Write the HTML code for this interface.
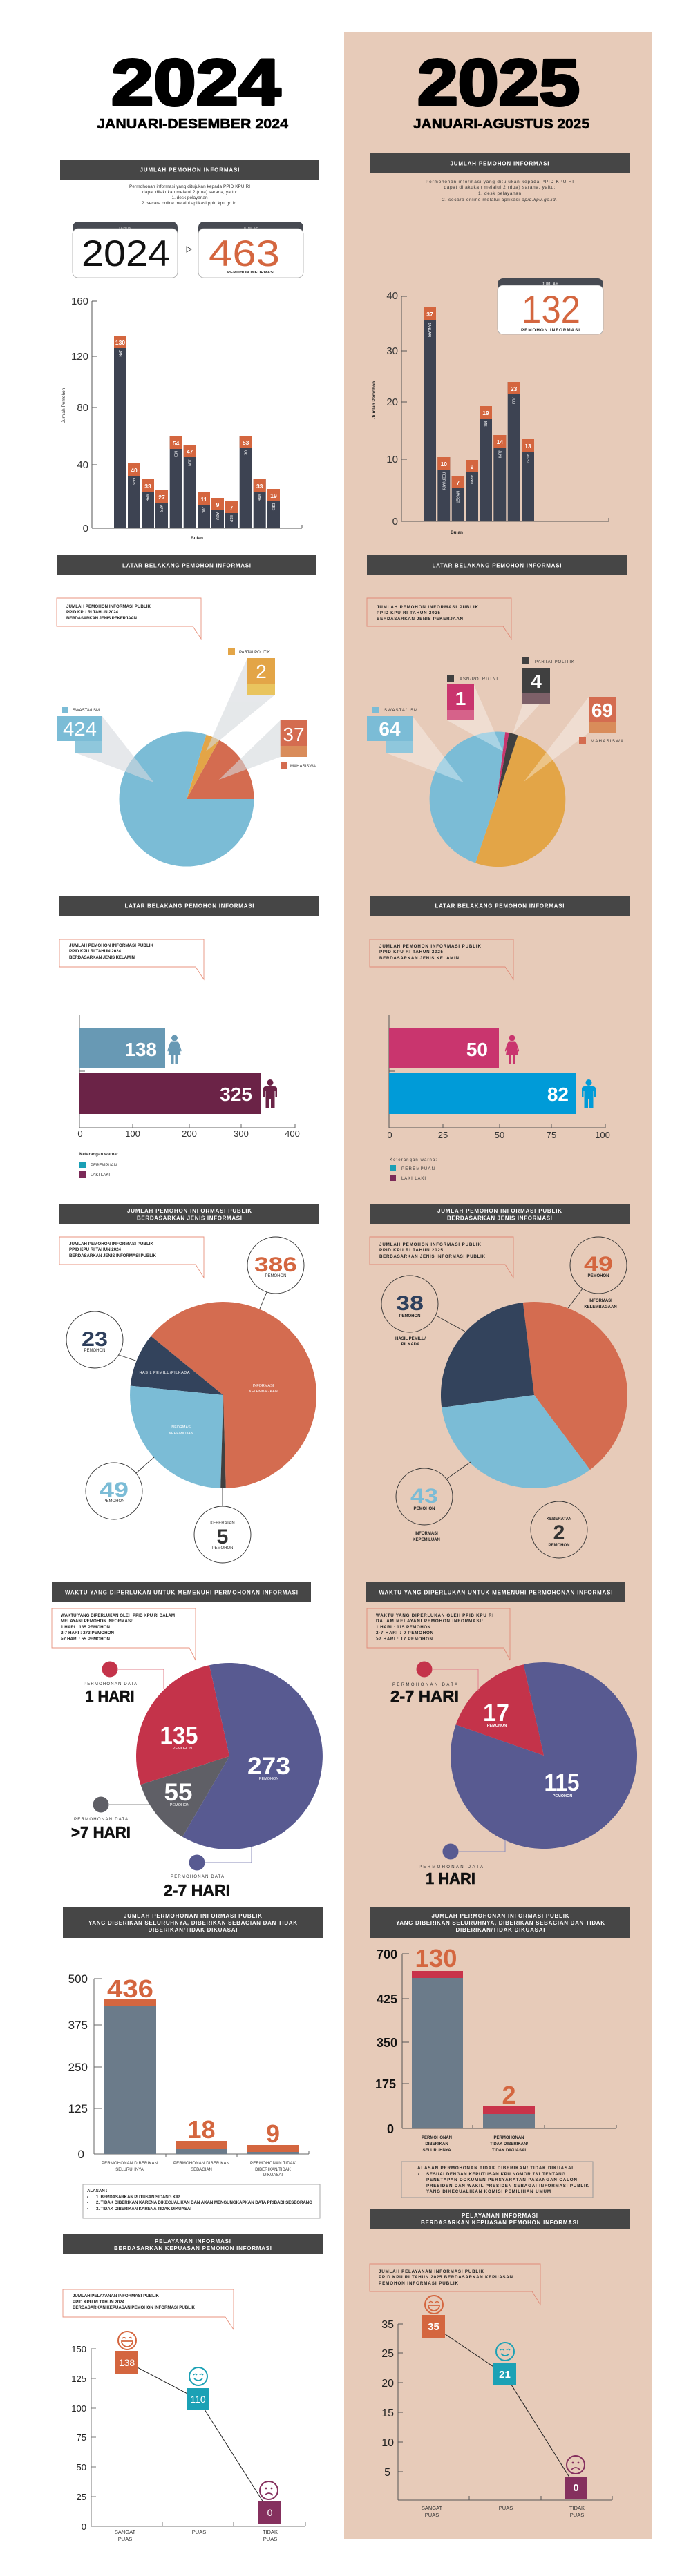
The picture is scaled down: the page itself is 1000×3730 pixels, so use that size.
<!DOCTYPE html>
<html>
<head>
<meta charset="utf-8">
<style>
html,body{margin:0;padding:0;background:#fff;}
svg{display:block;}
text{font-family:"Liberation Sans",Arial,sans-serif;}
.hd{fill:#fff;font-weight:bold;font-size:8px;text-anchor:middle;}
.co{fill:#222;font-weight:bold;font-size:6.2px;}
.cor{fill:#333;font-size:6.4px;}
.tk{fill:#333;font-size:15px;text-anchor:end;}
.bv{fill:#fff;font-weight:bold;font-size:8.5px;text-anchor:middle;}
.bm{fill:#fff;font-size:5px;}
.lg{fill:#333;font-size:6px;}
.sm{fill:#333;font-size:6px;text-anchor:middle;}
.smb{fill:#222;font-size:6px;font-weight:bold;text-anchor:middle;}
.pw{fill:#fff;font-size:5.5px;text-anchor:middle;}
</style>
</head>
<body>
<svg width="1000" height="3730" viewBox="0 0 1000 3730" xmlns="http://www.w3.org/2000/svg">
<rect x="0" y="0" width="1000" height="3730" fill="#ffffff"/>
<rect x="498" y="47" width="446" height="3630" fill="#e7cbb9"/>

<!-- ================= TITLES ================= -->
<text x="161" y="152" font-size="95" font-weight="bold" textLength="245" lengthAdjust="spacingAndGlyphs" fill="#000" stroke="#000" stroke-width="4" stroke-linejoin="round">2024</text>
<text x="140" y="186" font-size="20.5" font-weight="bold" textLength="277" lengthAdjust="spacingAndGlyphs" fill="#000" stroke="#000" stroke-width="0.6">JANUARI-DESEMBER 2024</text>
<text x="604" y="152" font-size="95" font-weight="bold" textLength="235" lengthAdjust="spacingAndGlyphs" fill="#000" stroke="#000" stroke-width="4" stroke-linejoin="round">2025</text>
<text x="598" y="186" font-size="20.5" font-weight="bold" textLength="255" lengthAdjust="spacingAndGlyphs" fill="#000" stroke="#000" stroke-width="0.6">JANUARI-AGUSTUS 2025</text>

<!-- ================= SECTION 1 : JUMLAH PEMOHON ================= -->
<rect x="87" y="231" width="375" height="29" fill="#464646"/>
<text class="hd" x="274.5" y="248.5" textLength="144">JUMLAH PEMOHON INFORMASI</text>
<g class="cor" text-anchor="middle" font-size="6.3">
<text x="274.5" y="272" textLength="175">Permohonan informasi yang ditujukan kepada PPID KPU RI</text>
<text x="274.5" y="280" textLength="137">dapat dilakukan melalui 2 (dua) sarana, yaitu:</text>
<text x="274.5" y="288" textLength="52">1. desk pelayanan</text>
<text x="274.5" y="296" textLength="139">2. secara online melalui aplikasi ppid.kpu.go.id.</text>
</g>
<!-- tahun box -->
<rect x="105" y="321" width="152" height="81" rx="8" fill="#474a52"/>
<rect x="105" y="331" width="152" height="71" rx="8" fill="#fff" stroke="#aaa" stroke-width="0.8"/>
<text x="181" y="332" font-size="5" fill="#ccc" text-anchor="middle" letter-spacing="0.5">TAHUN</text>
<text x="118" y="385" font-size="53" fill="#111" textLength="128" lengthAdjust="spacingAndGlyphs">2024</text>
<polygon points="270,357 277,361 270,365" fill="none" stroke="#333" stroke-width="0.8"/>
<rect x="287" y="321" width="152" height="81" rx="8" fill="#474a52"/>
<rect x="287" y="331" width="152" height="71" rx="8" fill="#fff" stroke="#aaa" stroke-width="0.8"/>
<text x="363" y="332" font-size="5" fill="#ccc" text-anchor="middle" letter-spacing="0.5">JUMLAH</text>
<text x="302" y="385" font-size="53" fill="#d4663f" textLength="103" lengthAdjust="spacingAndGlyphs">463</text>
<text x="363" y="396" font-size="5.8" font-weight="bold" fill="#222" text-anchor="middle" textLength="68">PEMOHON INFORMASI</text>

<!-- bar chart 2024 -->
<g stroke="#555" stroke-width="1">
<line x1="133" y1="436" x2="133" y2="765"/>
<line x1="133" y1="765" x2="437" y2="765"/>
<line x1="437" y1="760" x2="437" y2="765"/>
<line x1="133" y1="436" x2="141" y2="436"/>
<line x1="133" y1="516" x2="141" y2="516"/>
<line x1="133" y1="590" x2="141" y2="590"/>
<line x1="133" y1="673" x2="141" y2="673"/>
</g>
<text class="tk" x="128" y="441">160</text>
<text class="tk" x="128" y="521">120</text>
<text class="tk" x="128" y="595">80</text>
<text class="tk" x="128" y="678">40</text>
<text class="tk" x="128" y="770">0</text>
<text transform="translate(94,587) rotate(-90)" font-size="6.5" fill="#333" text-anchor="middle">Jumlah Pemohon</text>
<text x="285" y="781" font-size="6.5" font-weight="bold" fill="#333" text-anchor="middle">Bulan</text>
<g>
<rect x="165" y="486" width="18" height="279" fill="#3d4352"/><rect x="165" y="486" width="18" height="18" fill="#d4663f"/><text class="bv" x="174" y="499">130</text><text class="bm" transform="translate(172,507) rotate(90)">JAN</text>
<rect x="185" y="671" width="18" height="94" fill="#3d4352"/><rect x="185" y="671" width="18" height="18" fill="#d4663f"/><text class="bv" x="194" y="684">40</text><text class="bm" transform="translate(192,692) rotate(90)">FEB</text>
<rect x="205" y="694" width="18" height="71" fill="#3d4352"/><rect x="205" y="694" width="18" height="18" fill="#d4663f"/><text class="bv" x="214" y="707">33</text><text class="bm" transform="translate(212,715) rotate(90)">MAR</text>
<rect x="225" y="710" width="18" height="55" fill="#3d4352"/><rect x="225" y="710" width="18" height="18" fill="#d4663f"/><text class="bv" x="234" y="723">27</text><text class="bm" transform="translate(232,731) rotate(90)">APR</text>
<rect x="245.7" y="632" width="18" height="133" fill="#3d4352"/><rect x="245.7" y="632" width="18" height="18" fill="#d4663f"/><text class="bv" x="254.7" y="645">54</text><text class="bm" transform="translate(252.7,653) rotate(90)">MEI</text>
<rect x="265.7" y="644" width="18" height="121" fill="#3d4352"/><rect x="265.7" y="644" width="18" height="18" fill="#d4663f"/><text class="bv" x="274.7" y="657">47</text><text class="bm" transform="translate(272.7,665) rotate(90)">JUN</text>
<rect x="286" y="713" width="18" height="52" fill="#3d4352"/><rect x="286" y="713" width="18" height="18" fill="#d4663f"/><text class="bv" x="295" y="726">11</text><text class="bm" transform="translate(293,734) rotate(90)">JUL</text>
<rect x="306" y="721" width="18" height="44" fill="#3d4352"/><rect x="306" y="721" width="18" height="18" fill="#d4663f"/><text class="bv" x="315" y="734">9</text><text class="bm" transform="translate(313,742) rotate(90)">AGU</text>
<rect x="326" y="725" width="18" height="40" fill="#3d4352"/><rect x="326" y="725" width="18" height="18" fill="#d4663f"/><text class="bv" x="335" y="738">7</text><text class="bm" transform="translate(333,746) rotate(90)">SEP</text>
<rect x="346.7" y="631" width="18" height="134" fill="#3d4352"/><rect x="346.7" y="631" width="18" height="18" fill="#d4663f"/><text class="bv" x="355.7" y="644">53</text><text class="bm" transform="translate(353.7,652) rotate(90)">OKT</text>
<rect x="366.7" y="694" width="18" height="71" fill="#3d4352"/><rect x="366.7" y="694" width="18" height="18" fill="#d4663f"/><text class="bv" x="375.7" y="707">33</text><text class="bm" transform="translate(373.7,715) rotate(90)">MAR</text>
<rect x="387" y="708" width="18" height="57" fill="#3d4352"/><rect x="387" y="708" width="18" height="18" fill="#d4663f"/><text class="bv" x="396" y="721">19</text><text class="bm" transform="translate(394,729) rotate(90)">DES</text>
</g>

<!-- 2025 section 1 -->
<rect x="535" y="222" width="376" height="29" fill="#464646"/>
<text class="hd" x="723" y="239.5" textLength="143">JUMLAH PEMOHON INFORMASI</text>
<g class="cor" text-anchor="middle" font-size="6.3">
<text x="723" y="265" textLength="214">Permohonan informasi yang ditujukan kepada PPID KPU RI</text>
<text x="723" y="273" textLength="161">dapat dilakukan melalui 2 (dua) sarana, yaitu:</text>
<text x="723" y="282" textLength="62">1. desk pelayanan</text>
<text x="723" y="291" textLength="166">2. secara online melalui aplikasi <tspan font-style="italic">ppid.kpu.go.id.</tspan></text>
</g>
<rect x="720" y="403" width="153" height="81" rx="8" fill="#474a52"/>
<rect x="720" y="413" width="153" height="71" rx="8" fill="#fff" stroke="#aaa" stroke-width="0.8"/>
<text x="796.5" y="413" font-size="5" fill="#ddd" text-anchor="middle" font-weight="bold" letter-spacing="0.5">JUMLAH</text>
<text x="755" y="467" font-size="56" fill="#d4663f" textLength="85" lengthAdjust="spacingAndGlyphs">132</text>
<text x="796.5" y="480" font-size="6.3" font-weight="bold" fill="#222" text-anchor="middle" textLength="85">PEMOHON INFORMASI</text>

<g stroke="#555" stroke-width="1">
<line x1="581" y1="429" x2="581" y2="755"/>
<line x1="581" y1="755" x2="881" y2="755"/>
<line x1="881" y1="750" x2="881" y2="755"/>
<line x1="581" y1="429" x2="589" y2="429"/>
<line x1="581" y1="508" x2="589" y2="508"/>
<line x1="581" y1="582" x2="589" y2="582"/>
<line x1="581" y1="665" x2="589" y2="665"/>
</g>
<text class="tk" x="576" y="433">40</text>
<text class="tk" x="576" y="513">30</text>
<text class="tk" x="576" y="587">20</text>
<text class="tk" x="576" y="670">10</text>
<text class="tk" x="576" y="760">0</text>
<text transform="translate(543,579) rotate(-90)" font-size="6.5" font-weight="bold" fill="#222" text-anchor="middle">Jumlah Pemohon</text>
<text x="661" y="773" font-size="6.5" font-weight="bold" fill="#222" text-anchor="middle">Bulan</text>
<g>
<rect x="613" y="445" width="18" height="310" fill="#3d4352"/><rect x="613" y="445" width="18" height="18" fill="#d4663f"/><text class="bv" x="622" y="458">37</text><text class="bm" transform="translate(620,467) rotate(90)">JANUARI</text>
<rect x="633.3" y="662" width="18" height="93" fill="#3d4352"/><rect x="633.3" y="662" width="18" height="18" fill="#d4663f"/><text class="bv" x="642.3" y="675">10</text><text class="bm" transform="translate(640.3,684) rotate(90)">FEBRUARI</text>
<rect x="653.7" y="689" width="18" height="66" fill="#3d4352"/><rect x="653.7" y="689" width="18" height="18" fill="#d4663f"/><text class="bv" x="662.7" y="702">7</text><text class="bm" transform="translate(660.7,711) rotate(90)">MARET</text>
<rect x="674" y="666" width="18" height="89" fill="#3d4352"/><rect x="674" y="666" width="18" height="18" fill="#d4663f"/><text class="bv" x="683" y="679">9</text><text class="bm" transform="translate(681,688) rotate(90)">APRIL</text>
<rect x="694" y="588" width="18" height="167" fill="#3d4352"/><rect x="694" y="588" width="18" height="18" fill="#d4663f"/><text class="bv" x="703" y="601">19</text><text class="bm" transform="translate(701,610) rotate(90)">MEI</text>
<rect x="714.3" y="630" width="18" height="125" fill="#3d4352"/><rect x="714.3" y="630" width="18" height="18" fill="#d4663f"/><text class="bv" x="723.3" y="643">14</text><text class="bm" transform="translate(721.3,652) rotate(90)">JUNI</text>
<rect x="734.7" y="553" width="18" height="202" fill="#3d4352"/><rect x="734.7" y="553" width="18" height="18" fill="#d4663f"/><text class="bv" x="743.7" y="566">23</text><text class="bm" transform="translate(741.7,575) rotate(90)">JULI</text>
<rect x="755" y="636" width="18" height="119" fill="#3d4352"/><rect x="755" y="636" width="18" height="18" fill="#d4663f"/><text class="bv" x="764" y="649">13</text><text class="bm" transform="translate(762,658) rotate(90)">AGST</text>
</g>

<!-- ================= SECTION 2 : PEKERJAAN ================= -->
<rect x="82" y="804" width="376" height="29" fill="#464646"/>
<text class="hd" x="270" y="821.5" textLength="186">LATAR BELAKANG PEMOHON INFORMASI</text>
<path d="M82,866 H291 V925 L279,907 H82 Z" fill="none" stroke="#e8937f" stroke-width="0.9"/>
<text class="co" x="96" y="880" textLength="122">JUMLAH PEMOHON INFORMASI PUBLIK</text>
<text class="co" x="96" y="888" textLength="75">PPID KPU RI TAHUN 2024</text>
<text class="co" x="96" y="897" textLength="102">BERDASARKAN JENIS PEKERJAAN</text>

<path d="M270,1157 L367.5,1157 A97.5,97.5 0 0 0 317.3,1071.7 Z" fill="#d46c50"/>
<path d="M270,1157 L317.3,1071.7 A97.5,97.5 0 0 0 298.5,1063.8 Z" fill="#e3a547"/>
<path d="M270,1157 L298.5,1063.8 A97.5,97.5 0 1 0 367.5,1157 Z" fill="#7bbcd6"/>
<g fill="#d5d9dd" opacity="0.6">
<polygon points="148,1037 109,1090 222.7,1133"/>
<polygon points="358,953 398,1006 298,1088"/>
<polygon points="405.7,1043 405.7,1096 316.7,1129"/>
</g>
<rect x="82" y="1037" width="66" height="36" fill="#7bbcd6"/>
<rect x="109" y="1073" width="39" height="17" fill="#8fc7dc"/>
<text x="91" y="1065" font-size="28" fill="#fff" textLength="49" lengthAdjust="spacingAndGlyphs">424</text>
<rect x="90" y="1023" width="9" height="9" fill="#7bbcd6"/>
<text class="lg" x="105" y="1030" textLength="39">SWASTA/LSM</text>
<rect x="358" y="953" width="40" height="37" fill="#e3a547"/>
<rect x="358" y="990" width="40" height="16" fill="#e9c45e"/>
<text x="378" y="982" font-size="28" fill="#fff" text-anchor="middle">2</text>
<rect x="330" y="938" width="10" height="10" fill="#e3a547"/>
<text class="lg" x="346" y="946" textLength="45">PARTAI POLITIK</text>
<rect x="405.7" y="1043" width="39.3" height="37" fill="#d46c50"/>
<rect x="405.7" y="1080" width="39.3" height="16" fill="#d98c5a"/>
<text x="425" y="1073" font-size="28" fill="#fff" text-anchor="middle">37</text>
<rect x="406" y="1104" width="9" height="9" fill="#d46c50"/>
<text class="lg" x="420" y="1111" textLength="37">MAHASISWA</text>

<!-- 2025 -->
<rect x="531" y="804" width="376" height="29" fill="#464646"/>
<text class="hd" x="719" y="821.5" textLength="187">LATAR BELAKANG PEMOHON INFORMASI</text>
<path d="M531,866 H740 V925 L728,907 H531 Z" fill="none" stroke="#e08a78" stroke-width="0.9"/>
<text class="co" x="545" y="881" font-weight="normal" textLength="147">JUMLAH PEMOHON INFORMASI PUBLIK</text>
<text class="co" x="545" y="889" font-weight="normal" textLength="92">PPID KPU RI TAHUN 2025</text>
<text class="co" x="545" y="898" font-weight="normal" textLength="125">BERDASARKAN JENIS PEKERJAAN</text>

<path d="M719,1157 L688.1,1249.5 A97.5,97.5 0 1 0 749.6,1064.5 Z" fill="#e3a547"/>
<path d="M719,1157 L749.6,1064.5 A97.5,97.5 0 0 0 736.6,1061.1 Z" fill="#404040"/>
<path d="M719,1157 L736.6,1061.1 A97.5,97.5 0 0 0 731.1,1060.3 Z" fill="#c9356e"/>
<path d="M719,1157 L731.1,1060.3 A97.5,97.5 0 0 0 688.1,1249.5 Z" fill="#7bbcd6"/>
<g fill="#ffffff" opacity="0.35">
<polygon points="597,1037 558,1090 671,1133"/>
<polygon points="686,992 647,1043 728,1088"/>
<polygon points="795.3,1004 756.7,1019 741.7,1063"/>
<polygon points="852,1009 852,1061 758,1132"/>
</g>
<rect x="531" y="1037" width="66" height="36" fill="#7bbcd6"/>
<rect x="558" y="1073" width="39" height="17" fill="#8fc7dc"/>
<text x="564" y="1065" font-size="28" font-weight="bold" fill="#fff" text-anchor="middle">64</text>
<rect x="539" y="1023" width="9" height="9" fill="#7bbcd6"/>
<text class="lg" x="556" y="1030" textLength="48">SWASTA/LSM</text>
<rect x="647" y="991" width="39" height="37" fill="#c9356e"/>
<rect x="647" y="1028" width="39" height="15" fill="#d6628a"/>
<text x="666.5" y="1021" font-size="28" font-weight="bold" fill="#fff" text-anchor="middle">1</text>
<rect x="647" y="977" width="10" height="10" fill="#404040"/>
<text class="lg" x="665" y="985" textLength="55">ASN/POLRI/TNI</text>
<rect x="756" y="967" width="40" height="36" fill="#404040"/>
<rect x="756" y="1003" width="40" height="16" fill="#7d6068"/>
<text x="776" y="996" font-size="28" font-weight="bold" fill="#fff" text-anchor="middle">4</text>
<rect x="756" y="952" width="10" height="10" fill="#404040"/>
<text class="lg" x="774" y="960" textLength="57">PARTAI POLITIK</text>
<rect x="852" y="1009" width="39" height="36" fill="#d46c50"/>
<rect x="852" y="1045" width="39" height="16" fill="#d98c5a"/>
<text x="871.5" y="1038" font-size="28" font-weight="bold" fill="#fff" text-anchor="middle">69</text>
<rect x="838" y="1067" width="10" height="10" fill="#d46c50"/>
<text class="lg" x="855" y="1075" textLength="47">MAHASISWA</text>

<!-- ================= SECTION 3 : GENDER ================= -->
<rect x="86" y="1297" width="376" height="29" fill="#464646"/>
<text class="hd" x="274" y="1314.5" textLength="187">LATAR BELAKANG PEMOHON INFORMASI</text>
<path d="M86,1360 H295 V1418 L283,1400 H86 Z" fill="none" stroke="#e8937f" stroke-width="0.9"/>
<text class="co" x="100" y="1371" textLength="122">JUMLAH PEMOHON INFORMASI PUBLIK</text>
<text class="co" x="100" y="1379" textLength="75">PPID KPU RI TAHUN 2024</text>
<text class="co" x="100" y="1388" textLength="95">BERDASARKAN JENIS KELAMIN</text>
<g stroke="#666" stroke-width="1">
<line x1="115" y1="1469" x2="115" y2="1633"/>
<line x1="115" y1="1551" x2="123" y2="1551"/>
<line x1="115" y1="1633" x2="427" y2="1633"/>
<line x1="192" y1="1628" x2="192" y2="1633"/>
<line x1="274" y1="1628" x2="274" y2="1633"/>
<line x1="349" y1="1628" x2="349" y2="1633"/>
<line x1="427" y1="1628" x2="427" y2="1633"/>
</g>
<rect x="115" y="1489" width="124" height="58" fill="#6899b4"/>
<text x="227" y="1529" font-size="28" font-weight="bold" fill="#fff" text-anchor="end">138</text>
<rect x="115" y="1554" width="262" height="59" fill="#6b2347"/>
<text x="365" y="1594" font-size="28" font-weight="bold" fill="#fff" text-anchor="end">325</text>
<g transform="translate(252.5,1519.5)" fill="#6899b4"><circle cx="0" cy="-16.5" r="4.5"/><path d="M-4,-11 H4 Q6,-11 7,-8 L10,1 Q10.5,3 9,3 L7,-3 L9,8 H-9 L-7,-3 L-9,3 Q-10.5,3 -10,1 L-7,-8 Q-6,-11 -4,-11 Z"/><rect x="-4.5" y="8" width="3.5" height="13"/><rect x="1" y="8" width="3.5" height="13"/></g>
<g transform="translate(391,1584)" fill="#6b2347"><circle cx="0" cy="-16.5" r="4.5"/><path d="M-6,-11 H6 Q10,-11 10,-7 V4 H7.5 V-4 H6.5 V21 H1 V7 H-1 V21 H-6.5 V-4 H-7.5 V4 H-10 V-7 Q-10,-11 -6,-11 Z"/></g>
<g fill="#333" font-size="13" text-anchor="middle">
<text x="116" y="1646">0</text><text x="192" y="1646">100</text><text x="274" y="1646">200</text><text x="349" y="1646">300</text><text x="423" y="1646">400</text>
</g>
<text class="lg" x="115" y="1673" font-weight="bold" textLength="56">Keterangan warna:</text>
<rect x="115" y="1682" width="9" height="9" fill="#1a9fb5"/>
<text class="lg" x="131" y="1689" textLength="38">PEREMPUAN</text>
<rect x="115" y="1696" width="9" height="9" fill="#7b2a58"/>
<text class="lg" x="131" y="1703" textLength="28">LAKI LAKI</text>

<!-- 2025 -->
<rect x="535" y="1297" width="376" height="29" fill="#464646"/>
<text class="hd" x="723" y="1314.5" textLength="187">LATAR BELAKANG PEMOHON INFORMASI</text>
<path d="M535,1360 H743 V1418 L731,1400 H535 Z" fill="none" stroke="#e08a78" stroke-width="0.9"/>
<text class="co" x="549" y="1372" font-weight="normal" textLength="147">JUMLAH PEMOHON INFORMASI PUBLIK</text>
<text class="co" x="549" y="1380" font-weight="normal" textLength="92">PPID KPU RI TAHUN 2025</text>
<text class="co" x="549" y="1389" font-weight="normal" textLength="115">BERDASARKAN JENIS KELAMIN</text>
<g stroke="#555" stroke-width="1">
<line x1="563" y1="1469" x2="563" y2="1633"/>
<line x1="563" y1="1551" x2="571" y2="1551"/>
<line x1="563" y1="1633" x2="876" y2="1633"/>
<line x1="641" y1="1628" x2="641" y2="1633"/>
<line x1="723" y1="1628" x2="723" y2="1633"/>
<line x1="798" y1="1628" x2="798" y2="1633"/>
<line x1="876" y1="1628" x2="876" y2="1633"/>
</g>
<rect x="563" y="1489" width="159" height="58" fill="#c9356e"/>
<text x="706" y="1529" font-size="28" font-weight="bold" fill="#fff" text-anchor="end">50</text>
<rect x="563" y="1554" width="270" height="59" fill="#009bd8"/>
<text x="823" y="1594" font-size="28" font-weight="bold" fill="#fff" text-anchor="end">82</text>
<g transform="translate(741,1519.5)" fill="#c9356e"><circle cx="0" cy="-16.5" r="4.5"/><path d="M-4,-11 H4 Q6,-11 7,-8 L10,1 Q10.5,3 9,3 L7,-3 L9,8 H-9 L-7,-3 L-9,3 Q-10.5,3 -10,1 L-7,-8 Q-6,-11 -4,-11 Z"/><rect x="-4.5" y="8" width="3.5" height="13"/><rect x="1" y="8" width="3.5" height="13"/></g>
<g transform="translate(852,1584)" fill="#009bd8"><circle cx="0" cy="-16.5" r="4.5"/><path d="M-6,-11 H6 Q10,-11 10,-7 V4 H7.5 V-4 H6.5 V21 H1 V7 H-1 V21 H-6.5 V-4 H-7.5 V4 H-10 V-7 Q-10,-11 -6,-11 Z"/></g>
<g fill="#333" font-size="13" text-anchor="middle">
<text x="564" y="1648">0</text><text x="641" y="1648">25</text><text x="723" y="1648">50</text><text x="798" y="1648">75</text><text x="872" y="1648">100</text>
</g>
<text class="lg" x="564" y="1681" textLength="68">Keterangan warna:</text>
<rect x="564" y="1687" width="9" height="9" fill="#1a9fb5"/>
<text class="lg" x="581" y="1694" textLength="48">PEREMPUAN</text>
<rect x="564" y="1701" width="9" height="9" fill="#7b2a58"/>
<text class="lg" x="581" y="1708" textLength="35">LAKI LAKI</text>

<!-- ================= SECTION 4 : JENIS INFORMASI ================= -->
<rect x="86" y="1743" width="376" height="29" fill="#464646"/>
<text class="hd" x="274" y="1756" textLength="180">JUMLAH PEMOHON INFORMASI PUBLIK</text>
<text class="hd" x="274" y="1766.5" textLength="152">BERDASARKAN JENIS INFORMASI</text>
<path d="M86,1791 H295 V1850 L283,1831 H86 Z" fill="none" stroke="#e8937f" stroke-width="0.9"/>
<text class="co" x="100" y="1803" textLength="122">JUMLAH PEMOHON INFORMASI PUBLIK</text>
<text class="co" x="100" y="1811" textLength="75">PPID KPU RI TAHUN 2024</text>
<text class="co" x="100" y="1820" textLength="126">BERDASARKAN JENIS INFORMASI PUBLIK</text>

<path d="M323,2020 L326.8,2155 A135,135 0 1 0 218.4,1934.7 Z" fill="#d46c50"/>
<path d="M323,2020 L218.4,1934.7 A135,135 0 0 0 188.7,2006.6 Z" fill="#33435c"/>
<path d="M323,2020 L188.7,2006.6 A135,135 0 0 0 319.2,2155 Z" fill="#7bbcd6"/>
<path d="M323,2020 L319.2,2155 A135,135 0 0 0 326.8,2155 Z" fill="#404040"/>
<text class="pw" x="238" y="1989" textLength="73">HASIL PEMILU/PILKADA</text>
<text class="pw" x="381" y="2008">INFORMASI</text>
<text class="pw" x="381" y="2016">KELEMBAGAAN</text>
<text class="pw" x="262" y="2068">INFORMASI</text>
<text class="pw" x="262" y="2077">KEPEMILUAN</text>
<g stroke="#333" stroke-width="0.9">
<line x1="386" y1="1871" x2="376" y2="1895"/>
<line x1="172" y1="1962" x2="199" y2="1971"/>
<line x1="197" y1="2133" x2="223" y2="2110"/>
<line x1="322" y1="2155" x2="322" y2="2182"/>
</g>
<g fill="#fff" stroke="#333" stroke-width="0.9">
<circle cx="399" cy="1832" r="41"/>
<circle cx="137" cy="1940" r="41"/>
<circle cx="165" cy="2159" r="41"/>
<circle cx="322" cy="2222" r="41"/>
</g>
<text x="399" y="1841" font-size="30" font-weight="bold" fill="#d4663f" text-anchor="middle" textLength="62" lengthAdjust="spacingAndGlyphs">386</text>
<text class="sm" x="399" y="1849">PEMOHON</text>
<text x="137" y="1949" font-size="30" font-weight="bold" fill="#2e3f5c" text-anchor="middle" textLength="38" lengthAdjust="spacingAndGlyphs">23</text>
<text class="sm" x="137" y="1957">PEMOHON</text>
<text x="165" y="2167" font-size="30" font-weight="bold" fill="#7bbcd6" text-anchor="middle" textLength="42" lengthAdjust="spacingAndGlyphs">49</text>
<text class="sm" x="165" y="2175">PEMOHON</text>
<text class="sm" x="322" y="2207">KEBERATAN</text>
<text x="322" y="2235" font-size="30" font-weight="bold" fill="#333" text-anchor="middle">5</text>
<text class="sm" x="322" y="2243">PEMOHON</text>

<!-- 2025 -->
<rect x="535" y="1743" width="376" height="29" fill="#464646"/>
<text class="hd" x="723" y="1756" textLength="180">JUMLAH PEMOHON INFORMASI PUBLIK</text>
<text class="hd" x="723" y="1766.5" textLength="152">BERDASARKAN JENIS INFORMASI</text>
<path d="M535,1791 H743 V1850 L731,1831 H535 Z" fill="none" stroke="#e08a78" stroke-width="0.9"/>
<text class="co" x="549" y="1804" font-weight="normal" textLength="147">JUMLAH PEMOHON INFORMASI PUBLIK</text>
<text class="co" x="549" y="1812" font-weight="normal" textLength="92">PPID KPU RI TAHUN 2025</text>
<text class="co" x="549" y="1821" font-weight="normal" textLength="153">BERDASARKAN JENIS INFORMASI PUBLIK</text>

<path d="M773,2020 L853.9,2128.1 A135,135 0 0 0 756.8,1886 Z" fill="#d46c50"/>
<path d="M773,2020 L756.8,1886 A135,135 0 0 0 639.2,2038.1 Z" fill="#33435c"/>
<path d="M773,2020 L639.2,2038.1 A135,135 0 0 0 853.9,2128.1 Z" fill="#7bbcd6"/>
<g stroke="#333" stroke-width="0.9">
<line x1="843" y1="1866" x2="822" y2="1894"/>
<line x1="633" y1="1906" x2="673" y2="1928"/>
<line x1="647" y1="2141" x2="681" y2="2117"/>
</g>
<g fill="none" stroke="#333" stroke-width="0.9">
<circle cx="866" cy="1832" r="41"/>
<circle cx="593" cy="1888" r="41"/>
<circle cx="614" cy="2167" r="41"/>
<circle cx="809" cy="2215" r="41"/>
</g>
<text x="866" y="1840" font-size="30" font-weight="bold" fill="#d4663f" text-anchor="middle" textLength="42" lengthAdjust="spacingAndGlyphs">49</text>
<text class="smb" x="866" y="1849">PEMOHON</text>
<text class="smb" x="869" y="1885">INFORMASI</text>
<text class="smb" x="869" y="1894">KELEMBAGAAN</text>
<text x="593" y="1897" font-size="30" font-weight="bold" fill="#2e3f5c" text-anchor="middle" textLength="40" lengthAdjust="spacingAndGlyphs">38</text>
<text class="smb" x="593" y="1907">PEMOHON</text>
<text class="smb" x="594" y="1940">HASIL PEMILU/</text>
<text class="smb" x="594" y="1948">PILKADA</text>
<text x="614" y="2176" font-size="30" font-weight="bold" fill="#7bbcd6" text-anchor="middle" textLength="40" lengthAdjust="spacingAndGlyphs">43</text>
<text class="smb" x="614" y="2186">PEMOHON</text>
<text class="smb" x="617" y="2222">INFORMASI</text>
<text class="smb" x="617" y="2231">KEPEMILUAN</text>
<text class="smb" x="809" y="2201">KEBERATAN</text>
<text x="809" y="2229" font-size="30" font-weight="bold" fill="#333" text-anchor="middle">2</text>
<text class="smb" x="809" y="2239">PEMOHON</text>

<!-- ================= SECTION 5 : WAKTU ================= -->
<rect x="75" y="2291" width="375" height="29" fill="#464646"/>
<text class="hd" x="262.5" y="2308.5" textLength="337">WAKTU YANG DIPERLUKAN UNTUK MEMENUHI PERMOHONAN INFORMASI</text>
<path d="M75,2329 H283 V2404 L274,2386 H75 Z" fill="none" stroke="#e8937f" stroke-width="0.9"/>
<text class="co" x="88" y="2341" font-size="5.8" textLength="165">WAKTU YANG DIPERLUKAN OLEH PPID KPU RI DALAM</text>
<text class="co" x="88" y="2349" font-size="5.8" textLength="105">MELAYANI PEMOHON INFORMASI:</text>
<text class="co" x="88" y="2358" font-size="5.8" textLength="71">1 HARI : 135 PEMOHON</text>
<text class="co" x="88" y="2366" font-size="5.8" textLength="77">2-7 HARI : 273 PEMOHON</text>
<text class="co" x="88" y="2375" font-size="5.8" textLength="71">&gt;7 HARI : 55 PEMOHON</text>

<path d="M332,2543 L303,2411.1 A135,135 0 0 0 203.5,2584.3 Z" fill="#c4334a"/>
<path d="M332,2543 L203.5,2584.3 A135,135 0 0 0 264.1,2659.7 Z" fill="#5f5f66"/>
<path d="M332,2543 L264.1,2659.7 A135,135 0 1 0 303,2411.1 Z" fill="#585a91"/>
<text x="259" y="2525" font-size="35" font-weight="bold" fill="#fff" text-anchor="middle" textLength="55" lengthAdjust="spacingAndGlyphs">135</text>
<text class="pw" x="264" y="2533" font-size="5">PEMOHON</text>
<text x="389" y="2569" font-size="35" font-weight="bold" fill="#fff" text-anchor="middle" textLength="62" lengthAdjust="spacingAndGlyphs">273</text>
<text class="pw" x="389" y="2577" font-size="5">PEMOHON</text>
<text x="258" y="2607" font-size="35" font-weight="bold" fill="#fff" text-anchor="middle" textLength="41" lengthAdjust="spacingAndGlyphs">55</text>
<text class="pw" x="260" y="2615" font-size="5">PEMOHON</text>
<polyline points="171,2417 237,2417 237,2446" fill="none" stroke="#e07f8a" stroke-width="1"/>
<circle cx="159" cy="2417" r="11.5" fill="#c4334a"/>
<text class="sm" x="159.5" y="2440" font-size="6.3" textLength="77">PERMOHONAN DATA</text>
<text x="159" y="2464" font-size="23" font-weight="bold" fill="#111" text-anchor="middle" textLength="71" lengthAdjust="spacingAndGlyphs" stroke="#111" stroke-width="0.6">1 HARI</text>
<line x1="158" y1="2613" x2="217" y2="2613" stroke="#888" stroke-width="1"/>
<circle cx="146" cy="2613" r="11.5" fill="#5f5f66"/>
<text class="sm" x="146" y="2636" font-size="6.3" textLength="78">PERMOHONAN DATA</text>
<text x="146" y="2661" font-size="23" font-weight="bold" fill="#111" text-anchor="middle" textLength="86" lengthAdjust="spacingAndGlyphs" stroke="#111" stroke-width="0.6">&gt;7 HARI</text>
<polyline points="297,2697 364,2697 364,2674" fill="none" stroke="#8b8dbb" stroke-width="1"/>
<circle cx="285" cy="2697" r="11.5" fill="#585a91"/>
<text class="sm" x="285.5" y="2719" font-size="6.3" textLength="77">PERMOHONAN DATA</text>
<text x="285" y="2745" font-size="23" font-weight="bold" fill="#111" text-anchor="middle" textLength="96" lengthAdjust="spacingAndGlyphs" stroke="#111" stroke-width="0.6">2-7 HARI</text>

<!-- 2025 -->
<rect x="530" y="2291" width="375" height="29" fill="#464646"/>
<text class="hd" x="717.5" y="2308.5" textLength="338">WAKTU YANG DIPERLUKAN UNTUK MEMENUHI PERMOHONAN INFORMASI</text>
<path d="M531,2329 H738 V2404 L729,2386 H531 Z" fill="none" stroke="#e08a78" stroke-width="0.9"/>
<text class="co" x="544" y="2341" font-weight="normal" font-size="5.8" textLength="170">WAKTU YANG DIPERLUKAN OLEH PPID KPU RI</text>
<text class="co" x="544" y="2349" font-weight="normal" font-size="5.8" textLength="155">DALAM MELAYANI PEMOHON INFORMASI:</text>
<text class="co" x="544" y="2358" font-weight="normal" font-size="5.8" textLength="79">1 HARI : 115 PEMOHON</text>
<text class="co" x="544" y="2366" font-weight="normal" font-size="5.8" textLength="83">2-7 HARI : 0 PEMOHON</text>
<text class="co" x="544" y="2375" font-weight="normal" font-size="5.8" textLength="82">&gt;7 HARI : 17 PEMOHON</text>

<path d="M787,2542 L757.8,2410.2 A135,135 0 0 0 659.6,2497.4 Z" fill="#c4334a"/>
<path d="M787,2542 L659.6,2497.4 A135,135 0 1 0 757.8,2410.2 Z" fill="#585a91"/>
<text x="718" y="2492" font-size="35" font-weight="bold" fill="#fff" text-anchor="middle" textLength="38" lengthAdjust="spacingAndGlyphs">17</text>
<text class="pw" x="719" y="2500" font-weight="bold">PEMOHON</text>
<text x="813" y="2593" font-size="35" font-weight="bold" fill="#fff" text-anchor="middle" textLength="51" lengthAdjust="spacingAndGlyphs">115</text>
<text class="pw" x="814" y="2602" font-weight="bold">PEMOHON</text>
<polyline points="626,2417 692,2417 692,2448" fill="none" stroke="#e07f8a" stroke-width="1"/>
<circle cx="614" cy="2417" r="11.5" fill="#c4334a"/>
<text class="sm" x="615" y="2441" font-size="6.3" textLength="94">PERMOHONAN DATA</text>
<text x="614.5" y="2464" font-size="23" font-weight="bold" fill="#111" text-anchor="middle" textLength="99" lengthAdjust="spacingAndGlyphs" stroke="#111" stroke-width="0.6">2-7 HARI</text>
<polyline points="664,2681 731,2681 731,2665" fill="none" stroke="#8b8dbb" stroke-width="1"/>
<circle cx="652" cy="2681" r="11.5" fill="#585a91"/>
<text class="sm" x="652.5" y="2705" font-size="6.3" textLength="93">PERMOHONAN DATA</text>
<text x="652" y="2728" font-size="23" font-weight="bold" fill="#111" text-anchor="middle" textLength="72" lengthAdjust="spacingAndGlyphs" stroke="#111" stroke-width="0.6">1 HARI</text>

<!-- ================= SECTION 6 : DIBERIKAN ================= -->
<rect x="91" y="2761" width="376" height="45" fill="#464646"/>
<text class="hd" x="279" y="2777" textLength="200">JUMLAH PERMOHONAN INFORMASI PUBLIK</text>
<text class="hd" x="279" y="2787" textLength="302">YANG DIBERIKAN SELURUHNYA, DIBERIKAN SEBAGIAN DAN TIDAK</text>
<text class="hd" x="279" y="2797" textLength="129">DIBERIKAN/TIDAK DIKUASAI</text>
<g stroke="#666" stroke-width="1">
<line x1="136" y1="2865" x2="136" y2="3119"/>
<line x1="136" y1="3119" x2="447" y2="3119"/>
<line x1="136" y1="2865" x2="147" y2="2865"/>
<line x1="136" y1="2932" x2="147" y2="2932"/>
<line x1="136" y1="2993" x2="147" y2="2993"/>
<line x1="136" y1="3053" x2="147" y2="3053"/>
<line x1="240" y1="3119" x2="240" y2="3124"/>
<line x1="343" y1="3119" x2="343" y2="3124"/>
<line x1="447" y1="3114" x2="447" y2="3119"/>
</g>
<g fill="#222" font-size="17" text-anchor="end">
<text x="127" y="2871">500</text><text x="127" y="2938">375</text><text x="127" y="2999">250</text><text x="127" y="3059">125</text><text x="122" y="3125">0</text>
</g>
<rect x="151" y="2894" width="75" height="225" fill="#6b7b8a"/><rect x="151" y="2894" width="75" height="11" fill="#d4663f"/>
<rect x="254" y="3100" width="75" height="19" fill="#6b7b8a"/><rect x="254" y="3100" width="75" height="11" fill="#d4663f"/>
<rect x="358" y="3106" width="74" height="13" fill="#6b7b8a"/><rect x="358" y="3106" width="74" height="10" fill="#d4663f"/>
<text x="188.5" y="2892" font-size="36" font-weight="bold" fill="#d4663f" text-anchor="middle" textLength="67" lengthAdjust="spacingAndGlyphs">436</text>
<text x="291.5" y="3096" font-size="36" font-weight="bold" fill="#d4663f" text-anchor="middle">18</text>
<text x="395" y="3102" font-size="36" font-weight="bold" fill="#d4663f" text-anchor="middle">9</text>
<text class="sm" x="187.5" y="3134" textLength="81">PERMOHONAN DIBERIKAN</text>
<text class="sm" x="187.5" y="3143">SELURUHNYA</text>
<text class="sm" x="291.5" y="3134" textLength="81">PERMOHONAN DIBERIKAN</text>
<text class="sm" x="291.5" y="3143">SEBAGIAN</text>
<text class="sm" x="395" y="3134" textLength="66">PERMOHONAN TIDAK</text>
<text class="sm" x="395" y="3143">DIBERIKAN/TIDAK</text>
<text class="sm" x="395" y="3151">DIKUASAI</text>
<rect x="120" y="3163" width="343" height="49" fill="#fff" stroke="#aaa" stroke-width="1"/>
<text class="co" x="126" y="3174" font-size="6.3">ALASAN :</text>
<g class="co" font-size="5.6">
<text x="126" y="3183">•</text><text x="139" y="3183" textLength="121">1. BERDASARKAN PUTUSAN SIDANG KIP</text>
<text x="126" y="3191">•</text><text x="139" y="3191" textLength="313">2. TIDAK DIBERIKAN KARENA DIKECUALIKAN DAN AKAN MENGUNGKAPKAN DATA PRIBADI SESEORANG</text>
<text x="126" y="3200">•</text><text x="139" y="3200" textLength="138">3. TIDAK DIBERIKAN KARENA TIDAK DIKUASAI</text>
</g>

<!-- 2025 -->
<rect x="536" y="2761" width="376" height="45" fill="#464646"/>
<text class="hd" x="724" y="2777" textLength="199">JUMLAH PERMOHONAN INFORMASI PUBLIK</text>
<text class="hd" x="724" y="2787" textLength="302">YANG DIBERIKAN SELURUHNYA, DIBERIKAN SEBAGIAN DAN TIDAK</text>
<text class="hd" x="724" y="2797" textLength="129">DIBERIKAN/TIDAK DIKUASAI</text>
<g stroke="#555" stroke-width="1">
<line x1="582" y1="2829" x2="582" y2="3082"/>
<line x1="582" y1="3082" x2="892" y2="3082"/>
<line x1="582" y1="2829" x2="592" y2="2829"/>
<line x1="582" y1="2894" x2="592" y2="2894"/>
<line x1="582" y1="2957" x2="592" y2="2957"/>
<line x1="582" y1="3017" x2="592" y2="3017"/>
<line x1="684" y1="3077" x2="684" y2="3082"/>
<line x1="788" y1="3077" x2="788" y2="3082"/>
<line x1="892" y1="3077" x2="892" y2="3082"/>
</g>
<g fill="#111" font-size="18" font-weight="bold" text-anchor="end">
<text x="575" y="2836">700</text><text x="575" y="2901">425</text><text x="575" y="2964">350</text><text x="573" y="3024">175</text><text x="570" y="3089">0</text>
</g>
<rect x="596" y="2854" width="74" height="228" fill="#6b7b8a"/><rect x="596" y="2854" width="74" height="10" fill="#c9334a"/>
<rect x="699" y="3050" width="75" height="32" fill="#6b7b8a"/><rect x="699" y="3050" width="75" height="11" fill="#c9334a"/>
<text x="631" y="2848" font-size="36" font-weight="bold" fill="#d4663f" text-anchor="middle" textLength="61" lengthAdjust="spacingAndGlyphs">130</text>
<text x="736.5" y="3046" font-size="36" font-weight="bold" fill="#d4663f" text-anchor="middle">2</text>
<text class="smb" x="632" y="3097">PERMOHONAN</text>
<text class="smb" x="632" y="3106">DIBERIKAN</text>
<text class="smb" x="632" y="3115">SELURUHNYA</text>
<text class="smb" x="736.5" y="3097">PERMOHONAN</text>
<text class="smb" x="736.5" y="3106">TIDAK DIBERIKAN/</text>
<text class="smb" x="736.5" y="3115">TIDAK DIKUASAI</text>
<rect x="581" y="3130" width="277" height="52" fill="none" stroke="#999" stroke-width="1"/>
<g class="co" font-size="5.6">
<text x="604" y="3141" textLength="225">ALASAN PERMOHONAN TIDAK DIBERIKAN/ TIDAK DIKUASAI</text>
<text x="605" y="3150">•</text>
<text x="617" y="3150" textLength="201">SESUAI DENGAN KEPUTUSAN KPU NOMOR 731 TENTANG</text>
<text x="617" y="3158" textLength="218">PENETAPAN DOKUMEN PERSYARATAN PASANGAN CALON</text>
<text x="617" y="3167" textLength="235">PRESIDEN DAN WAKIL PRESIDEN SEBAGAI INFORMASI PUBLIK</text>
<text x="617" y="3175" textLength="180">YANG DIKECUALIKAN KOMISI PEMILIHAN UMUM</text>
</g>

<!-- ================= SECTION 7 : KEPUASAN ================= -->
<rect x="91" y="3235" width="376" height="29" fill="#464646"/>
<text class="hd" x="279" y="3248" textLength="110">PELAYANAN INFORMASI</text>
<text class="hd" x="279" y="3258" textLength="228">BERDASARKAN KEPUASAN PEMOHON INFORMASI</text>
<path d="M91,3315 H338 V3373 L326,3355 H91 Z" fill="none" stroke="#e8937f" stroke-width="0.9"/>
<text class="co" x="105" y="3326" textLength="125">JUMLAH PELAYANAN INFORMASI PUBLIK</text>
<text class="co" x="105" y="3335" textLength="75">PPID KPU RI TAHUN 2024</text>
<text class="co" x="105" y="3343" textLength="177">BERDASARKAN KEPUASAN PEMOHON INFORMASI PUBLIK</text>
<g stroke="#777" stroke-width="1">
<line x1="132" y1="3401" x2="132" y2="3658"/>
<line x1="132" y1="3658" x2="442" y2="3658"/>
<line x1="132" y1="3401" x2="139" y2="3401"/>
<line x1="132" y1="3444" x2="139" y2="3444"/>
<line x1="132" y1="3487" x2="139" y2="3487"/>
<line x1="132" y1="3529" x2="139" y2="3529"/>
<line x1="132" y1="3572" x2="139" y2="3572"/>
<line x1="132" y1="3615" x2="139" y2="3615"/>
<line x1="235" y1="3652" x2="235" y2="3658"/>
<line x1="338" y1="3652" x2="338" y2="3658"/>
<line x1="442" y1="3652" x2="442" y2="3658"/>
</g>
<g fill="#222" font-size="13" text-anchor="end">
<text x="125" y="3406">150</text><text x="125" y="3449">125</text><text x="125" y="3492">100</text><text x="125" y="3534">75</text><text x="125" y="3577">50</text><text x="125" y="3620">25</text><text x="125" y="3663">0</text>
</g>
<g fill="#333" font-size="7.5" text-anchor="middle">
<text x="181" y="3669">SANGAT</text><text x="181" y="3679">PUAS</text>
<text x="288" y="3669">PUAS</text>
<text x="391" y="3669">TIDAK</text><text x="391" y="3679">PUAS</text>
</g>
<polyline points="183.5,3420 286.5,3474 390.5,3638" fill="none" stroke="#222" stroke-width="1"/>
<rect x="167" y="3404" width="33" height="33" fill="#d4663f"/>
<text x="183.5" y="3426" font-size="14" fill="#fff" text-anchor="middle">138</text>
<rect x="270" y="3458" width="33" height="32" fill="#1ba1b5"/>
<text x="286.5" y="3479" font-size="14" fill="#fff" text-anchor="middle">110</text>
<rect x="374" y="3622" width="33" height="32" fill="#85305e"/>
<text x="390.5" y="3643" font-size="14" fill="#fff" text-anchor="middle">0</text>
<g transform="translate(184,3389)" fill="none" stroke="#d4663f" stroke-width="2"><circle r="13"/><path d="M-7,-3 q2.5,-3 5,0 M2,-3 q2.5,-3 5,0" stroke-width="1.5"/><path d="M-8,1 H8 A8,8 0 0 1 -8,1 Z" stroke-width="1.8"/></g>
<g transform="translate(287,3441)" fill="none" stroke="#1ba1b5" stroke-width="2"><circle r="13"/><path d="M-7,-2 q2.5,-3 5,0 M2,-2 q2.5,-3 5,0" stroke-width="1.5"/><path d="M-6,3 Q0,9 6,3" stroke-width="1.6"/></g>
<g transform="translate(389,3606)" fill="none" stroke="#85305e" stroke-width="2"><circle r="13"/><circle cx="-4" cy="-3" r="1.4" fill="#85305e" stroke="none"/><circle cx="4" cy="-3" r="1.4" fill="#85305e" stroke="none"/><path d="M-6,7 Q0,1 6,7" stroke-width="1.6"/></g>

<!-- 2025 -->
<rect x="535" y="3198" width="376" height="29" fill="#464646"/>
<text class="hd" x="723" y="3211" textLength="110">PELAYANAN INFORMASI</text>
<text class="hd" x="723" y="3221" textLength="228">BERDASARKAN KEPUASAN PEMOHON INFORMASI</text>
<path d="M535,3278 H782 V3337 L770,3318 H535 Z" fill="none" stroke="#e08a78" stroke-width="0.9"/>
<text class="co" x="548" y="3291" font-weight="normal" textLength="152">JUMLAH PELAYANAN INFORMASI PUBLIK</text>
<text class="co" x="548" y="3299" font-weight="normal" textLength="194">PPID KPU RI TAHUN 2025 BERDASARKAN KEPUASAN</text>
<text class="co" x="548" y="3308" font-weight="normal" textLength="115">PEMOHON INFORMASI PUBLIK</text>
<g stroke="#555" stroke-width="1">
<line x1="576" y1="3365" x2="576" y2="3620"/>
<line x1="576" y1="3620" x2="886" y2="3620"/>
<line x1="576" y1="3365" x2="583" y2="3365"/>
<line x1="576" y1="3407" x2="583" y2="3407"/>
<line x1="576" y1="3450" x2="583" y2="3450"/>
<line x1="576" y1="3493" x2="583" y2="3493"/>
<line x1="576" y1="3536" x2="583" y2="3536"/>
<line x1="576" y1="3579" x2="583" y2="3579"/>
<line x1="679" y1="3614" x2="679" y2="3620"/>
<line x1="783" y1="3614" x2="783" y2="3620"/>
<line x1="886" y1="3614" x2="886" y2="3620"/>
</g>
<g fill="#222" font-size="16" text-anchor="end">
<text x="570" y="3371">35</text><text x="570" y="3413">25</text><text x="570" y="3456">20</text><text x="570" y="3499">15</text><text x="570" y="3542">10</text><text x="565" y="3585">5</text>
</g>
<g fill="#333" font-size="7.5" text-anchor="middle">
<text x="625" y="3634">SANGAT</text><text x="625" y="3644">PUAS</text>
<text x="732" y="3634">PUAS</text>
<text x="835" y="3634">TIDAK</text><text x="835" y="3644">PUAS</text>
</g>
<polyline points="627.5,3368.5 730.5,3438 833.5,3602" fill="none" stroke="#222" stroke-width="1"/>
<rect x="611" y="3352" width="33" height="33" fill="#d4663f"/>
<text x="627.5" y="3374" font-size="15" font-weight="bold" fill="#fff" text-anchor="middle">35</text>
<rect x="714" y="3422" width="33" height="32" fill="#1ba1b5"/>
<text x="730.5" y="3443" font-size="15" font-weight="bold" fill="#fff" text-anchor="middle">21</text>
<rect x="817" y="3586" width="33" height="32" fill="#85305e"/>
<text x="833.5" y="3607" font-size="15" font-weight="bold" fill="#fff" text-anchor="middle">0</text>
<g transform="translate(628,3337)" fill="none" stroke="#d4663f" stroke-width="2"><circle r="13"/><path d="M-7,-3 q2.5,-3 5,0 M2,-3 q2.5,-3 5,0" stroke-width="1.5"/><path d="M-8,1 H8 A8,8 0 0 1 -8,1 Z" stroke-width="1.8"/></g>
<g transform="translate(731,3405)" fill="none" stroke="#1ba1b5" stroke-width="2"><circle r="13"/><path d="M-7,-2 q2.5,-3 5,0 M2,-2 q2.5,-3 5,0" stroke-width="1.5"/><path d="M-6,3 Q0,9 6,3" stroke-width="1.6"/></g>
<g transform="translate(833,3569)" fill="none" stroke="#85305e" stroke-width="2"><circle r="13"/><circle cx="-4" cy="-3" r="1.4" fill="#85305e" stroke="none"/><circle cx="4" cy="-3" r="1.4" fill="#85305e" stroke="none"/><path d="M-6,7 Q0,1 6,7" stroke-width="1.6"/></g>
</svg>
</body>
</html>
